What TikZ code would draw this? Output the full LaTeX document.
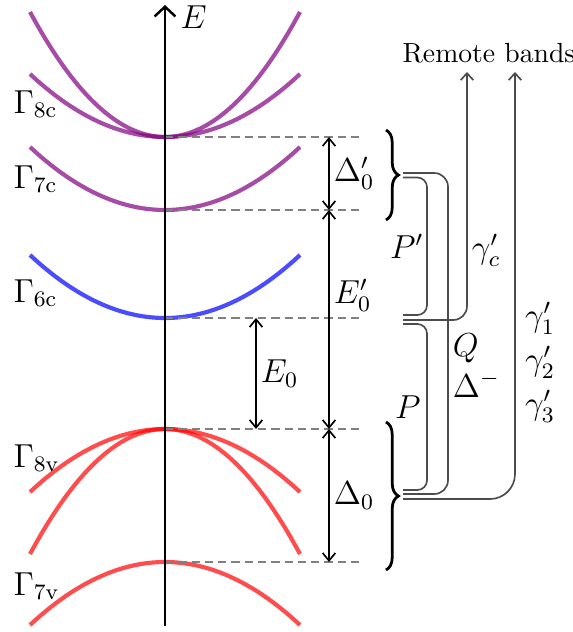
\documentclass[tikz,border=0pt]{standalone}
\usetikzlibrary{arrows.meta,positioning,calc,decorations.pathreplacing}

\begin{document}
\begin{tikzpicture}[x=0.0127cm, y=-0.0127cm,
        band/.style={line width=1.5pt, opacity=0.7},
        axis/.style={line width=0.9pt, -{Straight Barb[length=3.5pt,width=7.5pt]}},
        level/.style={gray, line width=0.7pt, dash pattern=on 3pt off 1.8pt},
        gap/.style={semithick,
            {Straight Barb[length=2.8pt,width=4.6pt]}-{Straight Barb[length=2.8pt,width=4.6pt]}},
        coupling/.style={black!70, line width=0.6pt},
        remote/.style={coupling, -{Straight Barb[length=2.5pt,width=4.6pt]}},
        bracket/.style={line width=1pt, decorate, decoration={brace, amplitude=4.5pt}},
        glabel/.style={anchor=base west, inner sep=0pt, font=\large},
        tag/.style={text=black, font=\large},
    ]
    \useasboundingbox (0,0) rectangle (572,632);

    % Band edges at k = 0
    \coordinate (c8) at (165,137);
    \coordinate (c7) at (165,210);
    \coordinate (c6) at (165,318);
    \coordinate (v8) at (165,429);
    \coordinate (v7) at (165,562);

    % Bands
    \foreach \lev/\curv/\col in {137/63/violet, 137/125/violet, 210/63/violet,
            318/63/blue, 429/-63/red, 429/-125/red, 562/-63/red} {
        \draw[band, \col] plot[domain=-135:135, samples=41, smooth]
            ({165+\x}, {\lev-\curv*(\x/135)*(\x/135)});
    }

    % Levels
    \foreach \p in {c8,c7,c6,v8,v7}
        \draw[level] (\p) -- ++(195,0);

    % Energy axis
    \draw[axis] (165,626) -- (165,5);
    \node[glabel] (elab) at (180,28) {$E$};

    % Band names
    \node[glabel] (l8c) at (13,113) {$\Gamma_{\mathrm{8c}}$};
    \node[glabel] (l7c) at (13,188) {$\Gamma_{\mathrm{7c}}$};
    \node[glabel] (l6c) at (13,302) {$\Gamma_{\mathrm{6c}}$};
    \node[glabel] (l8v) at (13,467) {$\Gamma_{\mathrm{8v}}$};
    \node[glabel] (l7v) at (13,595) {$\Gamma_{\mathrm{7v}}$};

    % Gaps
    \draw[gap] ($(c8)+(164,0)$) -- node[tag, right, inner sep=1.5pt] (d0p) {$\Delta_0'$} ($(c7)+(164,0)$);
    \draw[gap] ($(c7)+(164,0)$) -- node[tag, right, inner sep=1.5pt, pos=0.39] (e0p) {$E_0'$} ($(v8)+(164,0)$);
    \draw[gap] ($(v8)+(164,0)$) -- node[tag, right, inner sep=1.5pt] (d0) {$\Delta_0$} ($(v7)+(164,0)$);
    \draw[gap] ($(c6)+(91,0)$) -- node[tag, right, inner sep=1.5pt] (e0) {$E_0$} ($(v8)+(91,0)$);

    % Braces
    \draw[bracket] (386,130) -- (386,220);
    \draw[bracket] (386,422) -- (386,570);

    % Coupling
    \coordinate (gc) at (403,175);
    \coordinate (g6) at (403,320);
    \coordinate (gv) at (403,494);
    \coordinate (rc) at (467,72);
    \coordinate (rv) at (515,72);

    \draw[coupling, rounded corners=5pt] ($(gc)+(0,-2)$) -| node[tag, right, pos=0.8, align=left, inner sep=1.5pt] (qlab) {$Q$\\[0.5pt]$\Delta^-$} ($(gv)+(45,0)$) -- (gv);
    \draw[coupling, rounded corners=3.5pt] ($(gc)+(0,2.5)$) -| node[tag, left, pos=0.75, inner sep=1pt] (pplab) {$P'$} ($(g6)+(24,-5)$) -- ($(g6)+(0,-5)$);
    \draw[coupling, rounded corners=3.5pt] ($(g6)+(0,4)$) -| node[tag, left, pos=0.75, inner sep=2pt] (plab) {$P$} ($(gv)+(24,-4)$) -- ($(gv)+(0,-4)$);
    \draw[remote, rounded corners=5pt] (g6) -| node[tag, right, pos=0.64, inner sep=1.5pt] (gclab) {$\gamma_c'$} (rc);
    \draw[remote, rounded corners=9pt] ($(gv)+(0,5)$) -| node[tag, right, pos=0.66, align=left] (glab) {$\gamma_1'$\\[2pt]$\gamma_2'$\\[2pt]$\gamma_3'$} (rv);

    % Remote bands
    \node[anchor=base] (rb) at (489,62) {Remote bands};
\end{tikzpicture}
\end{document}
